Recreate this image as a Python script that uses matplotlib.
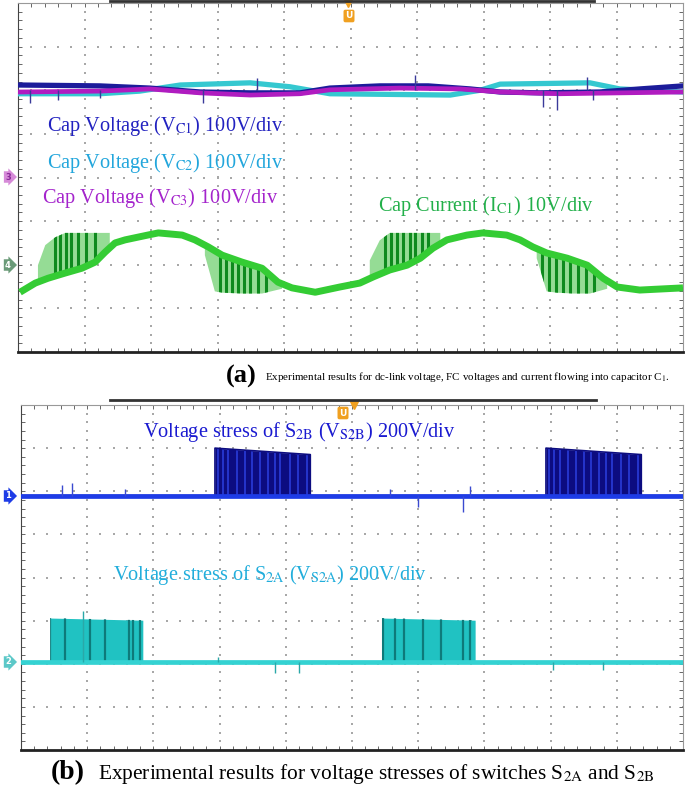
import numpy as np
import matplotlib
matplotlib.use("Agg")
import matplotlib.pyplot as plt
from matplotlib.patches import Polygon
from matplotlib.lines import Line2D

plt.rcParams['font.family'] = ['Liberation Serif', 'DejaVu Serif']
plt.rcParams['mathtext.fontset'] = 'stix'

# ---- panel (a): time and level in scope divisions ----
vc1_t = [0.03, 1.23, 1.98, 2.74, 3.49, 4.24, 4.69, 5.44, 6.17, 6.80, 7.25, 7.85, 8.75, 9.35, 10.0]
vc1 = [2.12, 2.10, 2.05, 1.96, 1.94, 1.94, 2.05, 2.10, 2.10, 2.03, 1.96, 1.94, 1.96, 2.03, 2.10]
vc2_t = [0.03, 1.23, 1.83, 2.44, 3.49, 4.09, 4.69, 6.50, 6.95, 7.25, 8.60, 9.05, 10.0]
vc2 = [1.92, 1.92, 1.98, 2.12, 2.17, 2.08, 1.92, 1.89, 2.00, 2.14, 2.17, 2.03, 1.96]
vc3_t = [0.03, 1.23, 1.98, 2.74, 3.49, 4.24, 4.69, 5.74, 6.65, 7.25, 8.15, 9.05, 10.0]
vc3 = [1.96, 1.98, 2.03, 1.94, 1.89, 1.92, 2.01, 2.05, 2.03, 1.96, 1.92, 1.94, 1.96]
vc_spike_t = [0.18, 0.60, 1.23, 2.78, 3.59, 5.97, 7.89, 8.11, 8.56, 8.65]
vc_spike = [1.71, 1.78, 1.82, 1.71, 2.28, 2.35, 1.62, 1.55, 2.30, 1.78]

ic_t = [0.03, 0.26, 0.45, 0.71, 0.96, 1.16, 1.31, 1.46, 1.61, 1.95, 2.11, 2.47, 2.66, 2.86,
        3.07, 3.37, 3.67, 3.91, 4.12, 4.47, 4.84, 5.14, 5.34, 5.59, 5.85, 6.05, 6.24, 6.45,
        6.75, 6.99, 7.35, 7.55, 7.74, 7.95, 8.26, 8.56, 8.80, 9.01, 9.35, 10.0]
ic1 = [-2.63, -2.42, -2.31, -2.19, -2.08, -1.94, -1.71, -1.50, -1.43, -1.32, -1.27, -1.32,
       -1.43, -1.59, -1.78, -1.94, -2.08, -2.40, -2.53, -2.63, -2.51, -2.42, -2.28, -2.12,
       -2.01, -1.85, -1.62, -1.43, -1.32, -1.27, -1.32, -1.43, -1.59, -1.73, -1.85, -2.01,
       -2.31, -2.51, -2.58, -2.53]

# switching bursts on the current trace (light band + dark stripes)
burst_t = [[0.30, 0.41, 0.56, 0.71, 0.96, 1.16, 1.38],
           [2.81, 2.96, 3.07, 3.37, 3.67, 3.97],
           [5.29, 5.44, 5.59, 5.85, 6.05, 6.35],
           [7.80, 7.95, 8.10, 8.35, 8.60, 8.86]]
burst_hi = [[-2.01, -1.55, -1.37, -1.27, -1.27, -1.27, -1.27],
            [-1.55, -1.68, -1.78, -1.94, -2.08, -2.42],
            [-1.90, -1.44, -1.27, -1.27, -1.27, -1.27],
            [-1.66, -1.73, -1.78, -1.89, -2.03, -2.36]]
burst_lo = [[-2.36, -2.33, -2.29, -2.19, -2.08, -1.94, -1.62],
            [-1.78, -2.61, -2.64, -2.66, -2.66, -2.55],
            [-2.33, -2.21, -2.12, -2.01, -1.85, -1.50],
            [-1.85, -2.61, -2.64, -2.66, -2.66, -2.55]]
stripe_t = [0.56, 0.63, 0.72, 0.80, 0.90, 1.02, 1.16,
            3.04, 3.13, 3.22, 3.31, 3.40, 3.49, 3.61, 3.73,
            5.52, 5.61, 5.70, 5.79, 5.89, 5.97, 6.08, 6.17,
            7.88, 7.98, 8.09, 8.20, 8.30, 8.42, 8.54, 8.66]

# ---- panel (b) ----
s2b_t = [0, 2.93, 2.93, 4.37, 4.37, 7.93, 7.93, 9.37, 9.37, 10]
s2b = [1.9, 1.9, 3.0, 2.85, 1.9, 1.9, 3.0, 2.85, 1.9, 1.9]
s2b_stripe_t = [2.98, 3.05, 3.13, 3.26, 3.38, 3.49, 3.61, 3.73, 3.84, 3.91, 4.06, 4.18, 4.32,
                7.98, 8.05, 8.14, 8.26, 8.38, 8.50, 8.61, 8.73, 8.84, 8.92, 9.06, 9.18, 9.32]
s2b_spike_t = [0.62, 0.77, 1.57, 5.57, 6.00, 6.68, 6.78]
s2b_spike = [2.15, 2.20, 2.05, 2.05, 1.64, 1.52, 2.12]

s2a_t = [0, 0.44, 0.44, 1.84, 1.84, 5.45, 5.45, 6.86, 6.86, 10]
s2a = [-1.96, -1.96, -0.94, -0.99, -1.96, -1.96, -0.94, -0.99, -1.96, -1.96]
s2a_stripe_t = [0.44, 0.66, 1.04, 1.27, 1.63, 1.69, 1.80,
                5.47, 5.65, 5.79, 6.07, 6.34, 6.68, 6.78]
s2a_spike_t = [0.94, 2.98, 3.84, 4.20, 8.04, 8.79]
s2a_spike = [-0.78, -1.84, -2.21, -2.21, -2.15, -2.15]

W, H = 685, 786
fig = plt.figure(figsize=(W / 100, H / 100), dpi=100)


def fx(x):
    return x / W


def fy(y):
    return 1 - y / H


def scope_axes(l, t, r, b):
    ax = fig.add_axes([fx(l), fy(b), (r - l) / W, (b - t) / H])
    ax.set_xlim(0, 10)
    ax.set_ylim(-4, 4)
    ax.set_xticks([])
    ax.set_yticks([])
    ax.set_xticks(np.arange(0, 10.01, 0.2), minor=True)
    ax.set_yticks(np.arange(-4, 4.01, 0.2), minor=True)
    ax.tick_params(which='minor', direction='in', length=3, width=0.7, color='#666666',
                   top=True, right=True, labelbottom=False, labelleft=False)
    gx, gy = np.meshgrid(np.arange(1, 10), np.arange(-4, 4.01, 0.2))
    ax.scatter(gx.ravel(), gy.ravel(), s=1.2, marker='s', color='#a8a8a8', lw=0, zorder=0)
    gx, gy = np.meshgrid(np.arange(0, 10.01, 0.2), np.arange(-3, 4))
    ax.scatter(gx.ravel(), gy.ravel(), s=1.2, marker='s', color='#a8a8a8', lw=0, zorder=0)
    ax.spines['left'].set_color('#444444')
    ax.spines['bottom'].set_color('#222222')
    ax.spines['bottom'].set_linewidth(2)
    ax.spines['right'].set_color('#999999')
    ax.spines['top'].set_color('#999999')
    return ax


def tag(x, y, s, fc, tc='white'):
    fig.text(fx(x), fy(y), s, ha='center', va='center', fontsize=6, color=tc,
             family='DejaVu Sans', fontweight='bold',
             bbox=dict(boxstyle='rarrow,pad=0.15', fc=fc, ec='none'))


def umark(ax, xd, x, y):
    ax.plot([xd], [4.0], marker='v', ms=6, color='#f0a020', clip_on=False, zorder=6)
    fig.text(fx(x), fy(y), 'U', ha='center', va='center', fontsize=6.5, color='white',
             family='DejaVu Sans', fontweight='bold',
             bbox=dict(boxstyle='round,pad=0.2', fc='#f0a020', ec='none'))


# ---------------- panel (a) ----------------
ax = scope_axes(18, 3, 683, 352)
ax.plot(vc2_t, vc2, color='#35c8d0', lw=3.8, zorder=3)
ax.plot(vc1_t, vc1, color='#1c1c9a', lw=3.8, zorder=3)
ax.plot(vc3_t, vc3, color='#b01cc0', lw=3.4, zorder=3)
ax.vlines(vc_spike_t, 2.0, vc_spike, color='#3a3a9a', lw=1, zorder=3)

for bt, bh, bl in zip(burst_t, burst_hi, burst_lo):
    verts = list(zip(bt, bh)) + list(zip(bt[::-1], bl[::-1]))
    poly = Polygon(verts, closed=True, fc='#95dc95', ec='none', zorder=2)
    ax.add_patch(poly)
    vl = ax.vlines(stripe_t, -4, 4, color='#0e8a1e', lw=2.2, zorder=2.5)
    vl.set_clip_path(poly)
ax.plot(ic_t, ic1, color='#34cc34', lw=5, zorder=3, solid_capstyle='butt')

fig.text(fx(47), fy(126), r'Cap Voltage (V$_{\mathrm{C1}}$) 100V/div', color='#2222c0',
         fontsize=14.6, va='center')
fig.text(fx(47), fy(163), r'Cap Voltage (V$_{\mathrm{C2}}$) 100V/div', color='#22a6dc',
         fontsize=14.6, va='center')
fig.text(fx(42), fy(198), r'Cap Voltage (V$_{\mathrm{C3}}$) 100V/div', color='#a424cc',
         fontsize=14.6, va='center')
fig.text(fx(378), fy(206), r'Cap Current (I$_{\mathrm{C1}}$) 10V/div', color='#22b04a',
         fontsize=14.6, va='center')

tag(8, 177, '3', '#d68ad8', '#8a2a9a')
tag(8, 265, '4', '#6a9a78')
umark(ax, 4.96, 349, 16)
fig.add_artist(Line2D([fx(110), fx(594)], [fy(1), fy(1)], color='#333333', lw=2))

fig.text(fx(226), fy(376), '(a)', fontsize=19, fontweight='bold', va='center')
fig.text(fx(265), fy(377),
         'Experimental results for dc-link voltage, FC voltages and current flowing into capacitor C$_1$.',
         fontsize=7.9, va='center')

# ---------------- panel (b) ----------------
bx = scope_axes(21, 405, 683, 750)
p1 = bx.fill_between(s2b_t, 1.9, s2b, color='#0c0c80', lw=0, zorder=2)
vl = bx.vlines(s2b_stripe_t, -4, 4, color='#2a3cd8', lw=1.2, zorder=2.5)
vl.set_clip_path(p1.get_paths()[0], bx.transData)
bx.plot(s2b_t, s2b, color='#0c0c80', lw=1.2, zorder=2.6)
bx.plot([0, 10], [1.9, 1.9], color='#1e3ce6', lw=3.4, zorder=3)
bx.vlines(s2b_spike_t, 1.9, s2b_spike, color='#3a4ad0', lw=1, zorder=3)

p2 = bx.fill_between(s2a_t, -1.96, s2a, color='#20c2c2', lw=0, zorder=2)
vl = bx.vlines(s2a_stripe_t, -4, 4, color='#0e7a7a', lw=1.6, zorder=2.5)
vl.set_clip_path(p2.get_paths()[0], bx.transData)
bx.plot([0, 10], [-1.96, -1.96], color='#34d2d2', lw=3.4, zorder=3)
bx.vlines(s2a_spike_t, -1.96, s2a_spike, color='#2aa8a8', lw=1, zorder=3)

fig.text(fx(143), fy(432), r'Voltage stress of S$_{\mathrm{2B}}$ (V$_{\mathrm{S2B}}$) 200V/div',
         color='#1a1ad0', fontsize=14.6, va='center')
fig.text(fx(113), fy(575), r'Voltage stress of S$_{\mathrm{2A}}$ (V$_{\mathrm{S2A}}$) 200V/div',
         color='#22aedc', fontsize=14.6, va='center')

tag(8, 496, '1', '#1e3ce6')
tag(8, 662, '2', '#5cc8c8')
umark(bx, 5.03, 343, 413)
fig.add_artist(Line2D([fx(110), fx(596)], [fy(400), fy(400)], color='#333333', lw=2))

fig.text(fx(51), fy(773), '(b)', fontsize=20, fontweight='bold', va='center')
fig.text(fx(98), fy(774),
         'Experimental results for voltage stresses of switches S$_{\\mathrm{2A}}$ and S$_{\\mathrm{2B}}$',
         fontsize=15.4, va='center')

fig.savefig('out.png', dpi=100)
